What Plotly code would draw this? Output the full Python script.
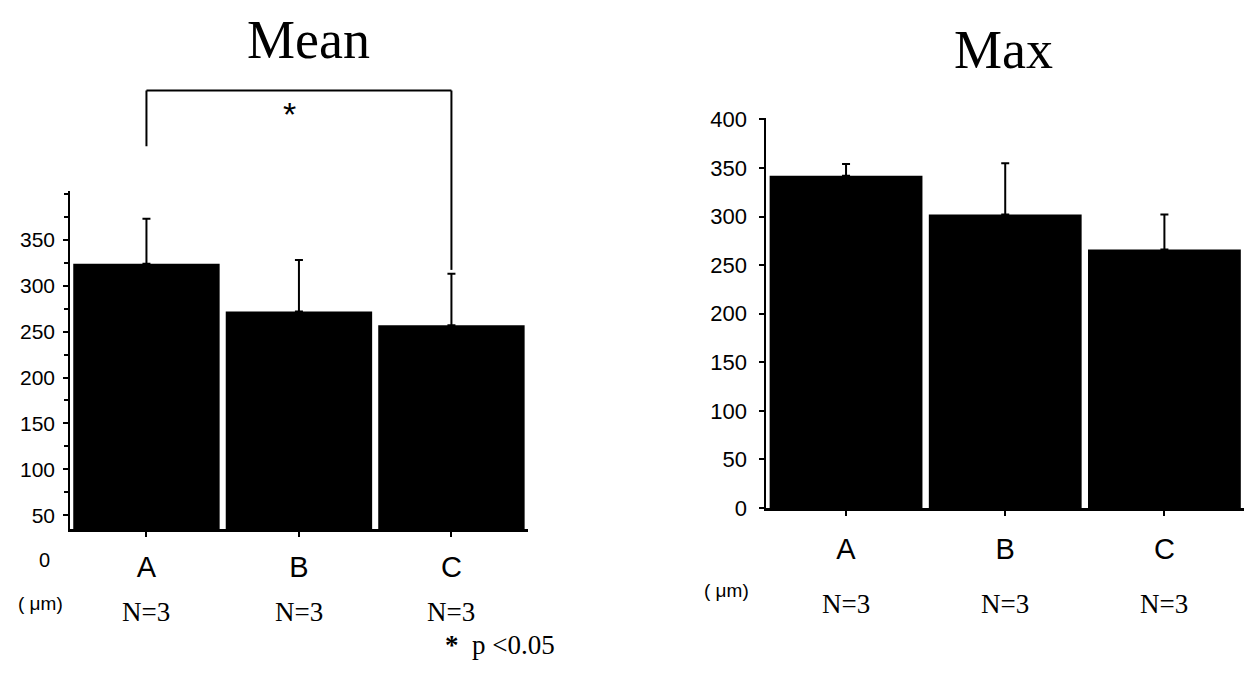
import plotly.graph_objects as go

categories = ["A", "B", "C"]
mean_values = [324, 272, 257]
mean_err = [49, 56, 56]
max_values = [342, 302, 266]
max_err = [12, 53, 36]
n_labels = ["N=3", "N=3", "N=3"]
mean_ticks = [50, 100, 150, 200, 250, 300, 350]
max_ticks = [0, 50, 100, 150, 200, 250, 300, 350, 400]

W, H = 1236, 658
# map target screen pixels to paper fractions (calibrated to the rendered page)
def px(x):
    return min(1.0, max(0.0, (x - 6) / 1232))
def py(y):
    return min(1.0, max(0.0, 1 - (y - 20.2) / 636.3))

sans = "Liberation Sans"
serif = "Liberation Serif"

fig = go.Figure()
fig.add_trace(go.Bar(
    x=categories, y=mean_values, marker=dict(color="black", line=dict(width=0)),
    error_y=dict(type="data", array=mean_err, arrayminus=[0, 0, 0], symmetric=False,
                 color="black", thickness=2, width=4),
    xaxis="x", yaxis="y", showlegend=False))
fig.add_trace(go.Bar(
    x=categories, y=max_values, marker=dict(color="black", line=dict(width=0)),
    error_y=dict(type="data", array=max_err, arrayminus=[0, 0, 0], symmetric=False,
                 color="black", thickness=2, width=4),
    xaxis="x2", yaxis="y2", showlegend=False))

axis_common = dict(showgrid=False, zeroline=False, showline=True, linecolor="black",
                   ticks="outside", tickcolor="black")
fig.update_layout(
    width=W, height=H, margin=dict(l=0, r=0, t=0, b=0),
    paper_bgcolor="white", plot_bgcolor="white", bargap=0.04,
    xaxis=dict(domain=[px(68), px(524)], anchor="y", linewidth=3, ticklen=5, tickwidth=2,
               tickfont=dict(family=sans, size=29, color="black"), ticklabelstandoff=5,
               **axis_common),
    yaxis=dict(domain=[py(532), py(193)], anchor="x", range=[35, 403], linewidth=2,
               tickvals=mean_ticks, ticklen=5, tickwidth=2,
               minor=dict(dtick=25, tick0=0, ticks="outside", ticklen=4, tickcolor="black", tickwidth=2),
               tickfont=dict(family=sans, size=21, color="black"), ticklabelstandoff=4,
               **axis_common),
    xaxis2=dict(domain=[px(762), px(1246)], anchor="y2", linewidth=3, ticklen=5, tickwidth=2,
                tickfont=dict(family=sans, size=29, color="black"), ticklabelstandoff=8,
                **axis_common),
    yaxis2=dict(domain=[py(511), py(120)], anchor="x2", range=[0, 401], linewidth=2,
                tickvals=max_ticks, ticklen=5, tickwidth=2,
                tickfont=dict(family=sans, size=22, color="black"), ticklabelstandoff=8,
                **axis_common),
)

def ann(text, x, y, xref="paper", size=20, family=sans, xanchor="center"):
    return dict(text=text, x=x, y=y, xref=xref, yref="paper", showarrow=False,
                xanchor=xanchor, yanchor="middle", font=dict(family=family, size=size, color="black"))

anns = [
    ann("Mean", px(306), py(41), size=54, family=serif),
    ann("Max", px(998), py(51), size=54, family=serif),
    ann("0", px(42), py(563), size=20),
    ann("( μm)", px(38), py(607), size=19),
    ann("( μm)", px(722), py(594), size=19),
    ann("<b>*</b>  p <0.05", px(440), py(648), size=27, family=serif, xanchor="left"),
    ann("*", px(287), py(116), size=34),
]
for c, n in zip(categories, n_labels):
    anns.append(ann(n, c, py(615), xref="x", size=27, family=serif))
    anns.append(ann(n, c, py(607), xref="x2", size=27, family=serif))
fig.update_layout(annotations=anns)

line = dict(color="black", width=2)
fig.add_shape(type="line", xref="x", yref="paper", x0="A", x1="A", y0=py(92), y1=py(148), line=line)
fig.add_shape(type="line", xref="x", yref="paper", x0="A", x1="C", y0=py(92), y1=py(92), line=line)
fig.add_shape(type="line", xref="x", yref="paper", x0="C", x1="C", y0=py(92), y1=py(272), line=line)

fig.write_html("out.html")
